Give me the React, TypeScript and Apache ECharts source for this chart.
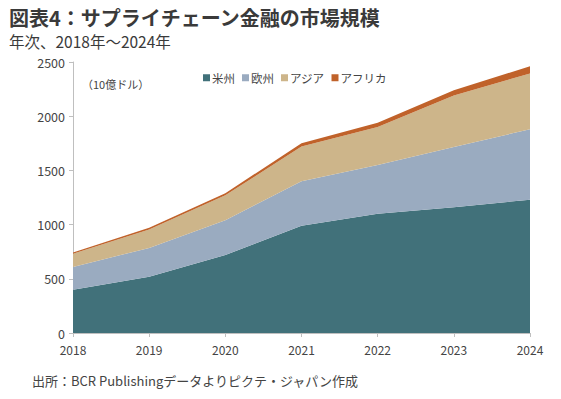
import React, { useEffect, useRef } from "react";
import * as echarts from "echarts";

const years = ["2018", "2019", "2020", "2021", "2022", "2023", "2024"];
const america = [400, 520, 720, 990, 1100, 1160, 1230];
const europe = [210, 265, 320, 410, 450, 555, 650];
const asia = [120, 170, 230, 320, 350, 475, 515];
const africa = [12, 15, 20, 30, 40, 50, 65];
const seriesNames = ["米州", "欧州", "アジア", "アフリカ"];
const colors = ["#41717A", "#9AABC0", "#CDB58A", "#C0622A"];

const FONT = "'Noto Sans CJK JP', 'Noto Sans', sans-serif";

export default function App() {
  const ref = useRef<HTMLDivElement>(null);
  useEffect(() => {
    if (!ref.current) return;
    const chart = echarts.init(ref.current, undefined, { renderer: "svg" });
    const datasets = [america, europe, asia, africa];
    chart.setOption({
      animation: false,
      backgroundColor: "#ffffff",
      textStyle: { fontFamily: FONT },
      title: [
        {
          text: "図表4：サプライチェーン金融の市場規模",
          left: 4,
          top: 2,
          textStyle: { fontSize: 20, fontWeight: "bold", color: "#3a3a3a", fontFamily: FONT },
        },
        {
          text: "年次、2018年～2024年",
          left: 4,
          top: 28,
          textStyle: { fontSize: 15.5, fontWeight: "normal", color: "#3a3a3a", fontFamily: FONT },
        },
        {
          text: "（10億ドル）",
          left: 77,
          top: 73,
          textStyle: { fontSize: 11, fontWeight: "normal", color: "#444", fontFamily: FONT },
        },
        {
          text: "出所：BCR Publishingデータよりピクテ・ジャパン作成",
          left: 27,
          top: 369,
          textStyle: { fontSize: 13, fontWeight: "normal", color: "#444", fontFamily: FONT },
        },
      ],
      legend: {
        data: seriesNames,
        left: 198,
        top: 67,
        icon: "rect",
        itemWidth: 7,
        itemHeight: 7,
        itemGap: 7,
        textStyle: { fontSize: 11.5, color: "#444", padding: [0, 0, 0, -3] },
      },
      grid: { left: 73, right: 31, top: 62, bottom: 66 },
      xAxis: {
        type: "category",
        data: years,
        boundaryGap: false,
        axisLine: { lineStyle: { color: "#bfbfbf" } },
        axisTick: { show: true, alignWithLabel: true, length: 4, lineStyle: { color: "#bfbfbf" } },
        axisLabel: { color: "#444", fontSize: 12, lineHeight: 12, margin: 10 },
      },
      yAxis: {
        type: "value",
        min: 0,
        max: 2500,
        interval: 500,
        axisLine: { show: true, lineStyle: { color: "#bfbfbf" } },
        axisTick: { show: true, length: 4, lineStyle: { color: "#bfbfbf" } },
        splitLine: { show: false },
        axisLabel: {
          color: "#444",
          fontSize: 12.5,
          lineHeight: 12,
          margin: 8,
          formatter: (v: number) => String(v),
        },
      },
      series: seriesNames.map((name, i) => ({
        name,
        type: "line",
        stack: "total",
        data: datasets[i],
        showSymbol: false,
        symbol: "none",
        lineStyle: { width: 0, color: colors[i] },
        itemStyle: { color: colors[i] },
        areaStyle: { color: colors[i], opacity: 1 },
      })),
    });
    return () => chart.dispose();
  }, []);
  return (
    <div
      ref={ref}
      style={{ position: "absolute", left: 0, top: 0, width: 561, height: 399 }}
    />
  );
}
